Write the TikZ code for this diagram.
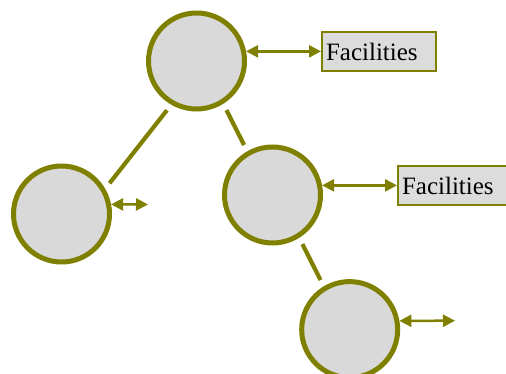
\documentclass[tikz,border=0pt]{standalone}
\usepackage{fontspec}
\setmainfont{Liberation Serif}
\usetikzlibrary{arrows.meta}
\definecolor{olivedk}{RGB}{128,128,0}
\definecolor{discfill}{RGB}{217,217,217}
\definecolor{boxfill}{RGB}{220,220,220}
\begin{document}
\begin{tikzpicture}[x=1pt,y=-1pt,
  disc/.style={circle,draw=olivedk,fill=discfill,line width=5pt,minimum size=96pt,inner sep=0pt},
  label box/.style={draw=olivedk,fill=boxfill,line width=2pt,anchor=west,
    minimum height=39pt,text width=106pt,inner xsep=4pt,inner ysep=0pt,align=left,
    font=\fontsize{25}{30}\selectfont},
  link/.style={draw=olivedk,line width=4.2pt,shorten <=7pt,shorten >=7pt},
  dbl/.style={draw=olivedk,line width=2.5pt,
    {Triangle[length=12pt,width=12pt]}-{Triangle[length=12pt,width=12pt]}}]
\useasboundingbox (0,0) rectangle (506,374);

% tree of discs
\node[disc] (top) at (196.5,61) {};
\node[disc] (left) at (61.5,214) {};
\node[disc] (mid) at (272.5,195) {};
\node[disc] (bot) at (349.7,329.6) {};

% labelled boxes
\node[label box] (fac1) at (321,51.5) {Facilities};
\node[label box] (fac2) at (397,186) {Facilities};

% free arrow ends
\coordinate (leftend) at (148,204.5);
\coordinate (botend) at (455,320.7);

% tree edges
\draw[link] (top.240) -- (left.30);
\draw[link] (top.302) -- (mid.120);
\draw[link] (mid.302) -- (bot.121);

% two-headed arrows
\draw[dbl] (top.11) -- (top.11 -| fac1.west);
\draw[dbl] (mid.11) -- (mid.11 -| fac2.west);
\draw[dbl] (left.11) -- (leftend);
\draw[dbl] (bot.10) -- (botend);
\end{tikzpicture}
\end{document}
